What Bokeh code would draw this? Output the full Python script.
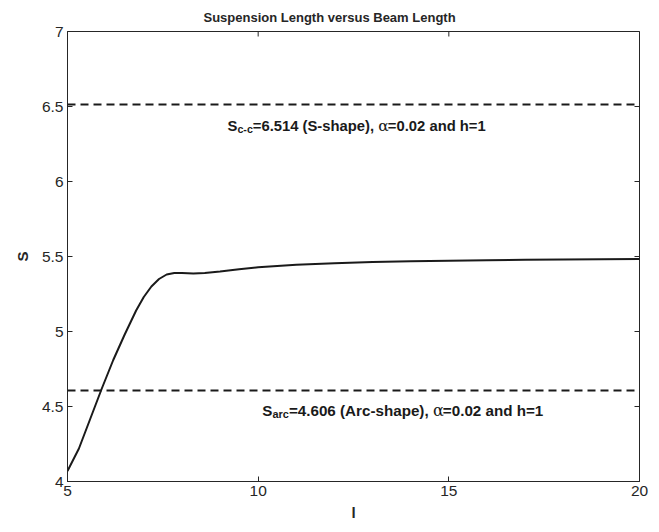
import math
from bokeh.plotting import figure
from bokeh.models import FixedTicker, Span
from bokeh.core.properties import value
from bokeh.embed import file_html
from bokeh.resources import INLINE

# ---- data ----
beam_len = [5.0, 5.3, 5.6, 5.9, 6.2, 6.5, 6.8, 7.0, 7.2, 7.4, 7.6, 7.8, 8.0, 8.3,
            8.6, 9.0, 9.5, 10.0, 11.0, 12.0, 13.0, 14.0, 15.0, 16.0, 17.0, 18.0,
            19.0, 20.0]
susp_len = [4.07, 4.22, 4.42, 4.62, 4.81, 4.98, 5.14, 5.23, 5.30, 5.35, 5.38, 5.39,
            5.39, 5.387, 5.39, 5.40, 5.415, 5.428, 5.445, 5.455, 5.463, 5.468,
            5.472, 5.475, 5.478, 5.480, 5.482, 5.484]
s_cc = 6.514
s_arc = 4.606
x_ticks = [5, 10, 15, 20]
y_ticks = [4, 4.5, 5, 5.5, 6, 6.5, 7]
title_text = "Suspension Length versus Beam Length"

FONT = "Liberation Sans"
INK = "#1a1a1a"
AX = "#262626"

X0, X1, Y0, Y1 = 5, 20, 4, 7

p = figure(width=659, height=532, x_range=(X0, X1), y_range=(Y0, Y1),
           output_backend="svg", toolbar_location=None,
           min_border_left=67, min_border_right=20, min_border_top=31,
           min_border_bottom=51, background_fill_color="white",
           border_fill_color="white")
p.grid.visible = False
p.outline_line_color = AX
p.outline_line_width = 1

p.title.text = title_text
p.title.align = "left"
p.title.offset = 136
p.title.text_font = FONT
p.title.text_font_size = "13px"
p.title.text_font_style = "bold"
p.title.text_color = AX
p.title.standoff = 13

def style_axis(ax, ticks):
    ax.ticker = FixedTicker(ticks=ticks)
    ax.major_tick_in = 5
    ax.major_tick_out = 0
    ax.minor_tick_line_color = None
    ax.axis_line_color = AX
    ax.major_tick_line_color = AX
    ax.major_label_text_font = FONT
    ax.major_label_text_color = AX
    ax.major_label_text_font_size = "15.5px"
    ax.major_label_standoff = 4
    ax.axis_label_text_font = FONT
    ax.axis_label_text_font_size = "15px"
    ax.axis_label_text_font_style = "bold"
    ax.axis_label_text_color = AX

style_axis(p.xaxis[0], x_ticks)
style_axis(p.yaxis[0], y_ticks)
p.xaxis[0].axis_label = "l"
p.yaxis[0].axis_label = "S"
p.xaxis[0].axis_label_standoff = 5
p.yaxis[0].axis_label_standoff = 8

# inward ticks on the top and right edges of the box (half of a dash is clipped)
p.scatter(x=[X1] * len(y_ticks), y=y_ticks, marker="dash", size=10,
          line_color=AX, line_width=1)
p.scatter(x=x_ticks, y=[Y1] * len(x_ticks), marker="dash", size=10,
          angle=math.pi / 2, line_color=AX, line_width=1)

# reference lines
for level in (s_cc, s_arc):
    p.add_layout(Span(location=level, dimension="width", line_color=INK,
                      line_width=2, line_dash="8 5"))

# curve
p.line(beam_len, susp_len, line_color=INK, line_width=2)

# ---- annotations built from segments (main text, subscript, alpha) ----
W_BOLD = {"S": 667, "c": 556, "-": 333, "=": 584, ".": 278, " ": 278, "(": 333,
          ")": 333, "s": 556, "h": 611, "a": 556, "p": 611, "e": 556, ",": 278,
          "n": 611, "d": 611, "r": 389, "A": 722}

def text_width(s, size):
    return sum(W_BOLD.get(ch, 556) for ch in s) / 1000.0 * size

def annotate(x, y, sub, rest, size=15.0, sub_ratio=0.75):
    sub_size = size * sub_ratio
    segs = [("S", size, "bold", 0, FONT),
            (sub, sub_size, "bold", 3, FONT),
            ("=%s, " % rest[0], size, "bold", 0, FONT),
            ("\u03b1", size * 1.05, "normal", 0, "DejaVu Serif"),
            (rest[1], size, "bold", 0, FONT)]
    off = 0.0
    for txt, sz, style, dy, fnt in segs:
        p.text(x=[x], y=[y], text=[txt], x_offset=off, y_offset=dy,
               text_font=value(fnt), text_font_size="%.1fpx" % sz,
               text_font_style=style, text_color=INK,
               text_baseline="middle", text_align="left")
        if txt == "\u03b1":
            off += 0.62 * sz
        else:
            off += text_width(txt, sz)

annotate(9.196, 6.373, "c-c", ("%.3f (S-shape)" % s_cc, "=0.02 and h=1"),
         size=14.8, sub_ratio=0.72)
annotate(10.11, 4.473, "arc", ("%.3f (Arc-shape)" % s_arc, "=0.02 and h=1"),
         size=15.2, sub_ratio=0.72)

open("out.html", "w").write(file_html(p, INLINE))
